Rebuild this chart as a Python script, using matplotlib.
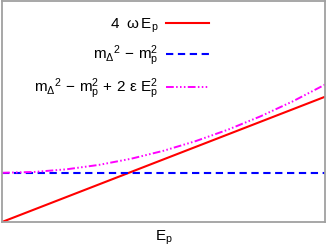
import matplotlib
matplotlib.use("Agg")
from matplotlib import pyplot as plt
import numpy as np

plt.rcParams['font.family'] = 'Liberation Sans'
plt.rcParams['mathtext.fontset'] = 'custom'
plt.rcParams['mathtext.rm'] = 'Liberation Sans'
plt.rcParams['mathtext.it'] = 'Liberation Sans'
plt.rcParams['mathtext.bf'] = 'Liberation Sans:bold'

# values (arbitrary units, E_p scaled to 0..1)
ep_line = [0.0, 1.0]
four_omega_ep = [0.0, 0.568]
mass_diff = [0.223, 0.223]

ep_curve = [0.0, 0.1, 0.2, 0.3, 0.4, 0.5, 0.6, 0.7, 0.8, 0.9, 1.0]
with_eps = [0.223, 0.227, 0.239, 0.259, 0.287, 0.323, 0.367, 0.419, 0.479, 0.547, 0.623]

labels = [r'$4\ \ \omega\,\mathrm{E}_\mathrm{p}$',
          r'$\mathrm{m}_{\Delta}{}^{2}\,-\,\mathrm{m}_\mathrm{p}^{2}$',
          r'$\mathrm{m}_{\Delta}{}^{2}\,-\,\mathrm{m}_\mathrm{p}^{2}\,+\,2\ \varepsilon\ \mathrm{E}_\mathrm{p}^{2}$']

fig = plt.figure(figsize=(3.29, 2.48), dpi=100)
ax = fig.add_axes([2/329, 26/248, 323/329, 220.5/248])

ax.plot(ep_line, four_omega_ep, color='#ff0000', lw=1.5, label=labels[0])
ax.plot(ep_line, mass_diff, color='#0000ff', lw=1.5, dashes=(3.5, 2.2), label=labels[1])
ax.plot(ep_curve, with_eps, color='#ff00ff', lw=1.4,
        dashes=(4, 1.2, 0.8, 1.2, 0.8, 1.2, 0.8, 1.2), label=labels[2])

ax.set_xlim(0, 1)
ax.set_ylim(0, 1)
ax.set_xticks([])
ax.set_yticks([])
for sp in ax.spines.values():
    sp.set_color('#a0a0a0')
    sp.set_linewidth(1.3)

ax.set_xlabel(r'$\mathrm{E}_\mathrm{p}$', fontsize=11, labelpad=5)

ax.legend(loc='upper right', bbox_to_anchor=(0.64, 0.93), markerfirst=False,
          frameon=False, fontsize=11, handlelength=2.8, handletextpad=0.5,
          borderpad=0, borderaxespad=0, labelspacing=0.55)

plt.savefig('out.png', dpi=100)
